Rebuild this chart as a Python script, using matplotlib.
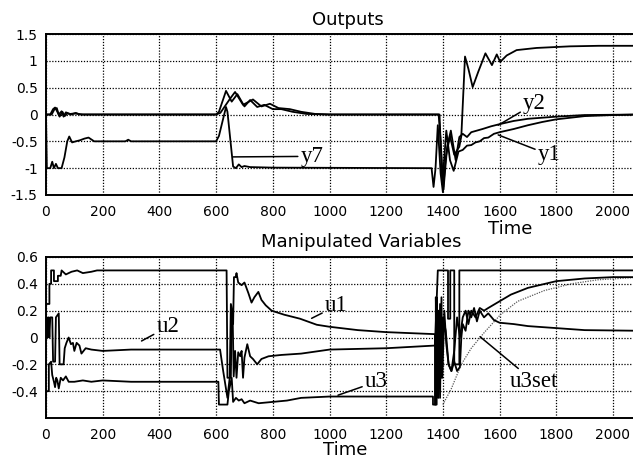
import matplotlib
matplotlib.use("Agg")
import matplotlib.pyplot as plt

# ---------------- data ----------------
# Outputs panel
y1_t = [0, 15, 25, 32, 40, 48, 58, 66, 75, 90, 105, 120, 600, 610, 635, 655, 675, 700, 720, 745, 770,
        800, 830, 870, 920, 1000, 1388, 1398, 1412, 1425, 1438, 1455, 1470, 1485, 1500, 1515, 1530,
        1545, 1560, 1580, 1600, 1650, 1700, 1750, 1800, 1900, 2000, 2100]
y1_v = [0, 0, 0.10, 0.13, 0.05, -0.04, 0.05, -0.03, 0.02, 0, 0.03, 0, 0, 0.05, 0.44, 0.24, 0.38, 0.15,
        0.27, 0.14, 0.18, 0.10, 0.10, 0.05, 0.01, 0, 0, -1.30, -0.30, -0.85, -1.05, -0.69, -0.66, -0.58,
        -0.57, -0.52, -0.50, -0.44, -0.43, -0.36, -0.33, -0.27, -0.20, -0.14, -0.09, -0.03, -0.01, 0]
y2_t = [0, 20, 30, 38, 45, 55, 62, 70, 85, 100, 130, 600, 615, 650, 667, 695, 730, 760, 790, 820, 860,
        900, 950, 1000, 1385, 1392, 1402, 1415, 1428, 1445, 1458, 1470, 1485, 1500, 1520, 1540, 1570,
        1600, 1650, 1700, 1800, 1900, 2100]
y2_v = [0, 0, 0.10, 0.12, 0.0, 0.06, -0.04, 0.04, 0.01, 0.02, 0, 0, 0.03, 0.30, 0.42, 0.18, 0.28, 0.15,
        0.20, 0.12, 0.10, 0.05, 0.01, 0, 0, -0.50, -1.40, -0.60, -0.30, -0.85, -0.42, -0.36, -0.42,
        -0.33, -0.30, -0.27, -0.22, -0.18, -0.12, -0.08, -0.04, -0.01, 0]
y7_t = [0, 3, 15, 22, 28, 35, 42, 55, 65, 75, 82, 92, 105, 120, 135, 150, 170, 200, 280, 290, 300, 600,
        610, 635, 640, 660, 670, 680, 690, 700, 720, 800, 1360, 1367, 1374, 1382, 1392, 1400, 1410, 1425,
        1440, 1458, 1465, 1478, 1490, 1505, 1525, 1550, 1573, 1590, 1602, 1625, 1660, 1730, 1848, 1950, 2100]
y7_v = [0, -1.0, -1.0, -0.88, -1.0, -0.92, -1.0, -1.0, -0.80, -0.50, -0.41, -0.52, -0.50, -0.48, -0.45,
        -0.43, -0.50, -0.50, -0.50, -0.47, -0.50, -0.50, -0.40, 0.14, 0.05, -0.97, -1.0, -0.93, -0.98,
        -0.96, -0.98, -0.99, -1.0, -1.35, -1.0, -0.20, -1.10, -1.45, -0.80, -0.40, -0.75, -0.60, -0.40,
        1.08, 0.85, 0.51, 0.80, 1.14, 0.92, 1.12, 0.98, 1.10, 1.20, 1.24, 1.27, 1.28, 1.28]

# Manipulated variables panel
u1_t = [0, 12, 12, 18, 18, 28, 28, 42, 42, 52, 55, 70, 90, 110, 130, 160, 180, 637, 640, 652, 655, 660,
        663, 669, 672, 678, 690, 700, 714, 725, 735, 749, 760, 775, 796, 840, 896, 955, 1000, 1100,
        1200, 1372, 1372, 1378, 1378, 1384, 1390, 1395, 1400, 1410, 1420, 1430, 1440, 1450, 1460, 1465,
        1470, 1480, 1490, 1500, 1510, 1520, 1530, 1545, 1560, 1580, 1600, 1650, 1700, 1800, 1900, 2100]
u1_v = [0.25, 0.25, 0.40, 0.40, 0.50, 0.50, 0.42, 0.42, 0.46, 0.46, 0.50, 0.47, 0.49, 0.50, 0.48, 0.49,
        0.50, 0.50, -0.30, -0.30, 0.20, 0.10, 0.45, 0.45, 0.48, 0.41, 0.39, 0.41, 0.33, 0.26, 0.30, 0.34,
        0.28, 0.24, 0.20, 0.17, 0.14, 0.095, 0.08, 0.055, 0.04, 0.025, -0.50, -0.50, 0.30, -0.45, 0.25,
        -0.30, 0.15, 0.05, -0.20, -0.25, -0.18, -0.25, -0.22, 0.0, 0.10, 0.05, 0.20, 0.15, 0.22, 0.12,
        0.20, 0.15, 0.18, 0.13, 0.11, 0.10, 0.085, 0.07, 0.055, 0.05]
u2_t = [0, 3, 6, 9, 12, 15, 22, 25, 32, 35, 45, 48, 62, 66, 72, 80, 88, 95, 100, 108, 118, 125, 140, 160,
        200, 300, 614, 625, 640, 648, 652, 658, 662, 667, 672, 678, 685, 690, 695, 700, 710, 720, 730,
        745, 760, 785, 830, 900, 1000, 1100, 1200, 1372, 1382, 1418, 1418, 1426, 1426, 1440, 1440,
        1458, 1458, 2100]
u2_v = [0.0, 0.15, 0.0, 0.15, 0.0, 0.15, 0.15, -0.18, -0.18, 0.15, 0.18, -0.20, -0.20, -0.08, -0.04,
        0.0, -0.05, -0.04, -0.10, -0.04, -0.06, -0.12, -0.08, -0.09, -0.10, -0.09, -0.09, -0.25, -0.45,
        -0.30, 0.25, 0.20, -0.29, -0.10, -0.30, -0.11, -0.14, -0.10, -0.30, -0.15, -0.05, -0.14, -0.16,
        -0.20, -0.16, -0.14, -0.13, -0.12, -0.09, -0.085, -0.08, -0.06, 0.50, 0.50, 0.14, 0.14, 0.50,
        0.50, -0.20, -0.20, 0.50, 0.50]
u3_t = [0, 10, 10, 18, 22, 28, 32, 36, 40, 45, 52, 60, 70, 80, 100, 130, 160, 200, 300, 608, 610, 640,
        645, 655, 660, 670, 680, 690, 700, 720, 750, 800, 850, 900, 1000, 1365, 1365, 1375, 1375, 1380,
        1385, 1390, 1395, 1398, 1405, 1412, 1420, 1430, 1440, 1450, 1460, 1470, 1480, 1490, 1500, 1515,
        1530, 1545, 1560, 1600, 1640, 1700, 1800, 1900, 2000, 2100]
u3_v = [-0.40, -0.40, -0.20, -0.18, -0.28, -0.33, -0.37, -0.30, -0.32, -0.38, -0.30, -0.32, -0.29, -0.33,
        -0.33, -0.32, -0.33, -0.32, -0.33, -0.33, -0.50, -0.50, -0.40, -0.30, -0.48, -0.45, -0.47, -0.46,
        -0.49, -0.47, -0.49, -0.48, -0.47, -0.45, -0.44, -0.44, -0.50, -0.50, 0.30, -0.40, 0.20, -0.45,
        0.30, -0.30, 0.20, -0.05, -0.20, -0.25, -0.10, 0.15, 0.0, 0.15, 0.20, 0.10, 0.20, 0.15, 0.22, 0.20,
        0.22, 0.27, 0.32, 0.37, 0.42, 0.44, 0.45, 0.45]
u3set_t = [1400, 1430, 1465, 1500, 1547, 1603, 1664, 1758, 1852, 1946, 2063, 2100]
u3set_v = [-0.50, -0.38, -0.20, -0.08, 0.04, 0.17, 0.27, 0.35, 0.40, 0.43, 0.445, 0.45]

xticks = [0, 200, 400, 600, 800, 1000, 1200, 1400, 1600, 1800, 2000]
top_yticks = [-1.5, -1, -0.5, 0, 0.5, 1, 1.5]
top_yticklabels = ["-1.5", "-1", "-0.5", "0", "0.5", "1", "1.5"]
bot_yticks = [-0.4, -0.2, 0, 0.2, 0.4, 0.6]
bot_yticklabels = ["-0.4", "-0.2", "0", "0.2", "0.4", "0.6"]

# ---------------- drawing ----------------
W, H = 633, 459
fig = plt.figure(figsize=(W / 100, H / 100), dpi=100)
sans = "DejaVu Sans"
serif = "Liberation Serif"

left_px, right_px = 46, 640
xmax = (right_px - left_px) / 0.2835


def make_axes(top_px, bot_px):
    return fig.add_axes([left_px / W, 1 - bot_px / H, (right_px - left_px) / W, (bot_px - top_px) / H])


def style(ax, yt, ytl, ylim):
    ax.set_xlim(0, xmax)
    ax.set_ylim(*ylim)
    ax.set_xticks(xticks)
    ax.set_xticklabels([str(v) for v in xticks], fontfamily=sans, fontsize=10)
    ax.set_yticks(yt)
    ax.set_yticklabels(ytl, fontfamily=sans, fontsize=10)
    ax.grid(True, color="black", linestyle=(0, (1, 1.3)), linewidth=0.9)
    ax.tick_params(length=0, pad=7)
    ax.tick_params(axis="y", pad=6)
    for s in ("left", "top", "bottom"):
        ax.spines[s].set_linewidth(1.4)
    ax.spines["right"].set_visible(False)


lw = 1.3
ann_fs = 16.5
arrow = dict(arrowstyle="-", color="black", lw=1.1, shrinkA=0, shrinkB=0)

ax1 = make_axes(34, 195)
ax1.plot(y1_t, y1_v, color="black", lw=lw)
ax1.plot(y2_t, y2_v, color="black", lw=lw)
ax1.plot(y7_t, y7_v, color="black", lw=lw)
style(ax1, top_yticks, top_yticklabels, (-1.5, 1.5))

ax1.annotate("y7", xy=(660, -0.79), xytext=(898, -0.78), fontfamily=serif, fontsize=ann_fs,
             va="center", ha="left", arrowprops=arrow)
ax1.annotate("y2", xy=(1595, -0.20), xytext=(1683, 0.20), fontfamily=serif, fontsize=ann_fs,
             va="center", ha="left", arrowprops=arrow)
ax1.annotate("y1", xy=(1595, -0.38), xytext=(1735, -0.75), fontfamily=serif, fontsize=ann_fs,
             va="center", ha="left", arrowprops=arrow)

ax2 = make_axes(257, 418)
ax2.plot(u3set_t, u3set_v, color="0.35", lw=0.9, linestyle=(0, (1, 1)))
ax2.plot(u1_t, u1_v, color="black", lw=lw)
ax2.plot(u2_t, u2_v, color="black", lw=lw)
ax2.plot(u3_t, u3_v, color="black", lw=lw)
style(ax2, bot_yticks, bot_yticklabels, (-0.6, 0.6))

ax2.annotate("u2", xy=(337, -0.026), xytext=(390, 0.08), fontfamily=serif, fontsize=ann_fs,
             va="center", ha="left", arrowprops=arrow)
ax2.annotate("u1", xy=(937, 0.143), xytext=(984, 0.235), fontfamily=serif, fontsize=ann_fs,
             va="center", ha="left", arrowprops=arrow)
ax2.annotate("u3", xy=(1030, -0.43), xytext=(1125, -0.33), fontfamily=serif, fontsize=ann_fs,
             va="center", ha="left", arrowprops=arrow)
ax2.annotate("u3set", xy=(1531, 0.006), xytext=(1637, -0.33), fontfamily=serif, fontsize=ann_fs,
             va="center", ha="left", arrowprops=arrow)

fig.text(348 / W, 1 - 20 / H, "Outputs", ha="center", va="center", fontfamily=sans, fontsize=13)
fig.text(510 / W, 1 - 229 / H, "Time", ha="center", va="center", fontfamily=sans, fontsize=13)
fig.text(361 / W, 1 - 242 / H, "Manipulated Variables", ha="center", va="center", fontfamily=sans,
         fontsize=13)
fig.text(345 / W, 1 - 450 / H, "Time", ha="center", va="center", fontfamily=sans, fontsize=13)

fig.savefig("out.png", dpi=100)
